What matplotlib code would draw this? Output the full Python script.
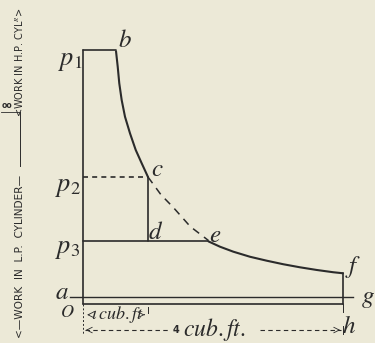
import matplotlib.pyplot as plt

# volumes in cub. ft, pressures relative to p2
v_adm = [0.0, 0.508]
p_adm = [2.0, 2.0]

# H.P. expansion b -> c
v_hp = [0.508, 0.534, 0.558, 0.595, 0.646, 0.723, 0.811, 0.903, 1.0]
p_hp = [1.99, 1.869, 1.738, 1.606, 1.475, 1.344, 1.213, 1.108, 1.0]

# continued hyperbola c -> e (dashed)
v_cont = [1.0, 1.2, 1.39, 1.65, 1.93]
p_cont = [1.0, 0.86, 0.76, 0.61, 0.5]

# L.P. expansion e -> f
v_lp = [1.93, 2.108, 2.312, 2.569, 2.826, 3.082, 3.338, 3.595, 3.851, 4.0]
p_lp = [0.493, 0.451, 0.412, 0.372, 0.341, 0.313, 0.289, 0.268, 0.25, 0.242]

p1, p2, p3 = 2.0, 1.0, 0.5
p_back = 0.055
v_cut, v_e, v_total = 1.0, 1.93, 4.0

bg = '#ece9d7'
ink = '#2b2b2b'

plt.rcParams['mathtext.fontset'] = 'stix'
fig = plt.figure(figsize=(3.75, 3.43), dpi=100, facecolor=bg)
ax = fig.add_axes([0, 0, 1, 1], facecolor=bg)
ax.set_xlim(-83 / 65, (375 - 83) / 65)
ax.set_ylim(-39 / 127, 304 / 127)
ax.axis('off')

lw = 1.2
line = dict(color=ink, solid_joinstyle='round', solid_capstyle='round')
# outline of the diagram
ax.plot([0, 0], [0, p1], lw=lw, **line)
ax.plot(v_adm, p_adm, lw=lw, **line)
ax.plot(v_hp, p_hp, lw=1.5, **line)
ax.plot([v_cut, v_cut], [p3, p2], lw=lw, **line)
ax.plot([0, v_cut], [p2, p2], color=ink, lw=lw, ls=(0, (3, 2.5)))
ax.plot(v_cont, p_cont, color=ink, lw=1.1, ls=(0, (5, 4)))
ax.plot([0, v_e], [p3, p3], lw=lw, **line)
ax.plot(v_lp, p_lp, lw=1.5, **line)
ax.plot([v_total, v_total], [0, p_lp[-1]], lw=lw, **line)
ax.plot([0, v_total], [0, 0], lw=lw, **line)
ax.plot([-0.2, 4.15], [p_back, p_back], color=ink, lw=1.0)

# extension ticks under the base line
ax.plot([0, 0], [0, -0.24], color=ink, lw=0.7, ls=(0, (2, 2)))
ax.plot([v_total, v_total], [0, -0.06], color=ink, lw=0.7)
ax.plot([v_total, v_total], [-0.17, -0.24], color=ink, lw=0.7)
ax.plot([v_cut, v_cut], [-0.02, -0.07], color=ink, lw=0.7)

# dimension lines
ax.annotate('', xy=(0.02, -0.085), xytext=(0.14, -0.085),
            arrowprops=dict(arrowstyle='->', color=ink, lw=0.6))
ax.annotate('', xy=(0.99, -0.085), xytext=(0.9, -0.085),
            arrowprops=dict(arrowstyle='->', color=ink, lw=0.6))
ax.text(0.53, -0.08, r'$\mathit{\iota\,cub.ft}$', fontsize=13, color=ink,
        ha='center', va='center')
ax.plot([0.03, 1.3], [-0.205, -0.205], color=ink, lw=0.8, ls=(0, (4, 3)))
ax.plot([2.72, 3.97], [-0.205, -0.205], color=ink, lw=0.8, ls=(0, (4, 3)))
ax.annotate('', xy=(0.0, -0.205), xytext=(0.12, -0.205),
            arrowprops=dict(arrowstyle='->', color=ink, lw=0.6))
ax.annotate('', xy=(v_total, -0.205), xytext=(3.88, -0.205),
            arrowprops=dict(arrowstyle='->', color=ink, lw=0.6))
ax.text(1.38, -0.205, '4', fontsize=7, color=ink, ha='left', va='center',
        fontweight='bold')
ax.text(1.54, -0.2, r'$\mathit{cub.ft.}$', fontsize=17, color=ink,
        ha='left', va='center')

# point letters
lab = dict(color=ink, ha='center', va='center')
ax.text(-0.2, 1.92, r'$p_1$', fontsize=19, **lab)
ax.text(-0.23, 0.93, r'$p_2$', fontsize=19, **lab)
ax.text(-0.23, 0.44, r'$p_3$', fontsize=19, **lab)
ax.text(0.65, 2.08, r'$b$', fontsize=18, **lab)
ax.text(1.15, 1.06, r'$c$', fontsize=18, **lab)
ax.text(1.11, 0.57, r'$d$', fontsize=18, **lab)
ax.text(2.04, 0.54, r'$e$', fontsize=18, **lab)
ax.text(4.15, 0.29, r'$f$', fontsize=18, **lab)
ax.text(4.38, 0.05, r'$g$', fontsize=18, **lab)
ax.text(-0.33, 0.095, r'$a$', fontsize=18, **lab)
ax.text(4.09, -0.17, r'$h$', fontsize=18, **lab)
ax.text(-0.24, -0.06, r'$O$', fontsize=13, **lab)

# work labels along the left margin
xs = -83 / 65 + 20 / 65
side = dict(color=ink, rotation=90, ha='center', va='bottom',
            family='DejaVu Sans', fontweight='medium')
ax.text(xs, (304 - 338) / 127, '<\u2014WORK  IN  L.P.  CYLINDER\u2014',
        fontsize=7.6, **side)
ax.plot([xs, xs], [(304 - 166) / 127, (304 - 112) / 127], color=ink, lw=0.7)
ax.text(xs, (304 - 117) / 127, '<WORK IN H.P. CYL$^{R}$>', fontsize=7.0, **side)
ax.text(-83 / 65 + 7 / 65, (304 - 106) / 127, 'oo', fontsize=5.5, color=ink,
        ha='center', va='center', fontweight='bold')
ax.plot([-83 / 65 + 1 / 65, xs], [(304 - 112) / 127] * 2, color=ink, lw=0.6)

fig.savefig('out.png', dpi=100, facecolor=bg)
